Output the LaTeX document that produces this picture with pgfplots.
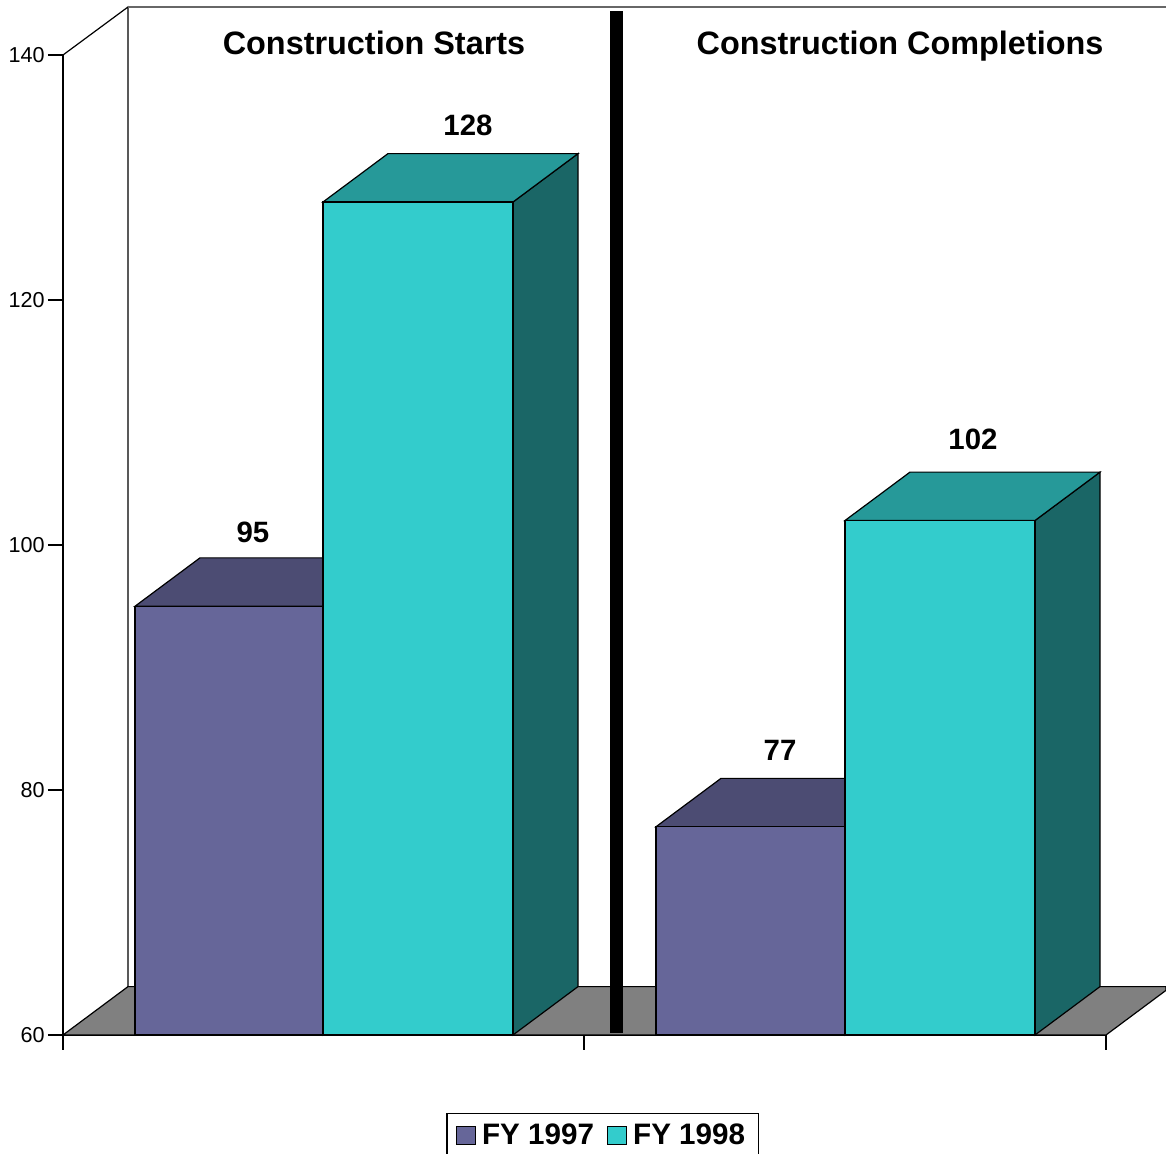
\documentclass[border=0pt]{standalone}
\usepackage{pgfplots}
\pgfplotsset{compat=1.18}
\usepackage{fontspec}
\setmainfont{Liberation Sans}
\definecolor{ninesevF}{HTML}{666699}
\definecolor{ninesevT}{HTML}{4C4C73}
\definecolor{ninesevS}{HTML}{333366}
\definecolor{nineeiF}{HTML}{33CCCC}
\definecolor{nineeiT}{HTML}{269999}
\definecolor{nineeiS}{HTML}{1A6666}
\definecolor{floorgray}{HTML}{808080}
\begin{document}
\begin{tikzpicture}
\useasboundingbox (-31.5pt,-59.5pt) rectangle (551.5pt,517.5pt);
\begin{axis}[
  at={(0pt,0pt)}, anchor=south west,
  scale only axis, width=521.5pt, height=490pt,
  xmin=63, xmax=1106, ymin=60, ymax=140,
  axis x line*=bottom, axis y line*=left,
  xtick={63,584,1106}, xticklabels={},
  ytick={60,80,...,140},
  tick align=outside, major tick length=7.5pt,
  tick style={black, line width=0.6pt},
  axis line style={black, line width=0.6pt},
  yticklabel style={font=\fontsize{10.8}{12}\selectfont, inner xsep=1.5pt},
  /pgf/number format/assume math mode=true,
  clip=false,
  legend style={at={(axis cs:602.5,53.63)}, anchor=north, legend columns=2,
    draw=black, line width=0.6pt, font=\bfseries\fontsize{14.8}{17}\selectfont,
    inner xsep=4.5pt, inner ysep=3pt,
    /tikz/every even column/.append style={column sep=4.5pt}},
  legend cell align=left,
  legend image code/.code={\draw[#1, draw=black, line width=0.6pt] (0pt,-4.7pt) rectangle (9.5pt,4.6pt); \path (10.5pt,0pt);},
]
% back wall
\addplot[forget plot, black, line width=0.6pt] coordinates {(63,140) (128,143.92) (128,63.95)};
\addplot[forget plot, floorgray!80!black, line width=1pt] coordinates {(128,143.92) (1166,143.92)};
% floor
\addplot[forget plot, fill=floorgray, draw=black, line width=0.6pt] coordinates {(63,60) (1106,60) (1166,63.646) (1166,63.95) (128,63.95)} -- cycle;
% separator
\addplot[forget plot, fill=black, draw=none] coordinates {(610,60.16) (623,60.16) (623,143.59) (610,143.59)} -- cycle;
% Starts FY1997 = 95
\addplot[forget plot, fill=ninesevS, draw=black, line width=0.6pt] coordinates {(323,60) (388,63.95) (388,98.95) (323,95)} -- cycle;
\addplot[forget plot, fill=ninesevT, draw=black, line width=0.6pt] coordinates {(135,95) (323,95) (388,98.95) (200,98.95)} -- cycle;
\addplot[forget plot, fill=ninesevF, draw=black, line width=0.6pt] coordinates {(135,60) (323,60) (323,95) (135,95)} -- cycle;
% Starts FY1998 = 128
\addplot[forget plot, fill=nineeiS, draw=black, line width=0.6pt] coordinates {(513,60) (578,63.95) (578,131.95) (513,128)} -- cycle;
\addplot[forget plot, fill=nineeiT, draw=black, line width=0.6pt] coordinates {(323,128) (513,128) (578,131.95) (388,131.95)} -- cycle;
\addplot[forget plot, fill=nineeiF, draw=black, line width=0.6pt] coordinates {(323,60) (513,60) (513,128) (323,128)} -- cycle;
% Completions FY1997 = 77
\addplot[forget plot, fill=ninesevS, draw=black, line width=0.6pt] coordinates {(845,60) (910,63.95) (910,80.95) (845,77)} -- cycle;
\addplot[forget plot, fill=ninesevT, draw=black, line width=0.6pt] coordinates {(656,77) (845,77) (910,80.95) (721,80.95)} -- cycle;
\addplot[forget plot, fill=ninesevF, draw=black, line width=0.6pt] coordinates {(656,60) (845,60) (845,77) (656,77)} -- cycle;
% Completions FY1998 = 102
\addplot[forget plot, fill=nineeiS, draw=black, line width=0.6pt] coordinates {(1035,60) (1100,63.95) (1100,105.95) (1035,102)} -- cycle;
\addplot[forget plot, fill=nineeiT, draw=black, line width=0.6pt] coordinates {(845,102) (1035,102) (1100,105.95) (910,105.95)} -- cycle;
\addplot[forget plot, fill=nineeiF, draw=black, line width=0.6pt] coordinates {(845,60) (1035,60) (1035,102) (845,102)} -- cycle;
% legend
\addlegendimage{fill=ninesevF}
\addlegendentry{FY 1997}
\addlegendimage{fill=nineeiF}
\addlegendentry{FY 1998}
% labels
\node[font=\bfseries\fontsize{14.7}{16}\selectfont] at (axis cs:253,101.06) {95};
\node[font=\bfseries\fontsize{14.7}{16}\selectfont] at (axis cs:468,134.29) {128};
\node[font=\bfseries\fontsize{14.7}{16}\selectfont] at (axis cs:780,83.27) {77};
\node[font=\bfseries\fontsize{14.7}{16}\selectfont] at (axis cs:973,108.65) {102};
% titles
\node[font=\bfseries\fontsize{16.2}{18}\selectfont, anchor=base] at (axis cs:374,140.08) {Construction Starts};
\node[font=\bfseries\fontsize{16.2}{18}\selectfont, anchor=base] at (axis cs:900,140.08) {Construction Completions};
\end{axis}
\end{tikzpicture}
\end{document}
